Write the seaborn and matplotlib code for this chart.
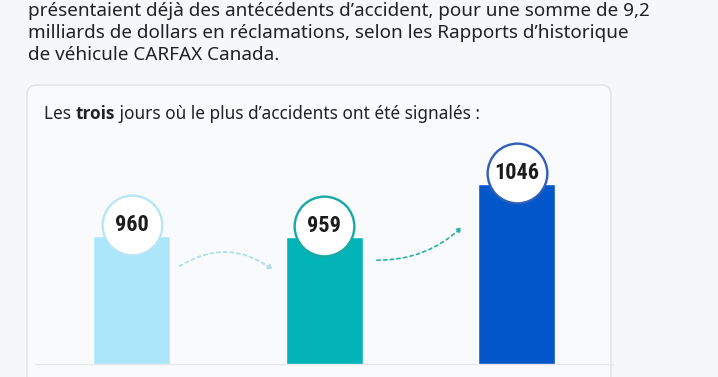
import matplotlib
matplotlib.use("Agg")
import matplotlib.pyplot as plt
import matplotlib.transforms as mtransforms
from matplotlib.patches import FancyBboxPatch
from matplotlib import font_manager
import seaborn as sns

# data
jours = ["Jour 1", "Jour 2", "Jour 3"]
accidents = [960, 959, 1046]
couleurs_barres = ["#abe6fb", "#02b4b8", "#0457ca"]
couleurs_cercles = ["#b9e6f6", "#17a9a3", "#2f5fb9"]

intro = [
    "présentaient déjà des antécédents d’accident, pour une somme de 9,2",
    "milliards de dollars en réclamations, selon les Rapports d’historique",
    "de véhicule CARFAX Canada.",
]

W, H = 718, 377
sns.set_theme(style="white")
plt.rcParams["font.family"] = ["Noto Sans", "DejaVu Sans"]

# narrowest bold family available for the numbers
noms = {f.name for f in font_manager.fontManager.ttflist}
etroites = [n for n in ["Noto Sans ExtraCondensed", "Noto Sans Condensed",
                        "Roboto Condensed", "Liberation Sans Narrow",
                        "DejaVu Sans Condensed"] if n in noms]
police_chiffres = etroites + ["Roboto", "DejaVu Sans"]

fig = plt.figure(figsize=(W / 100, H / 100), dpi=100)
fig.patch.set_facecolor("#f6f7f9")

def fx(px):
    return px / W

def fy(py):
    return 1 - py / H

# intro paragraph
for k, ligne in enumerate(intro):
    fig.text(fx(28), fy(15.5 + 22 * k), ligne, fontsize=13.6, color="#222222",
             va="baseline", ha="left")

# card (behind the chart)
carte = FancyBboxPatch((27, -30), 584, H - 85 + 30,
                       boxstyle="round,pad=0,rounding_size=10",
                       transform=mtransforms.IdentityTransform(),
                       facecolor="#f9fafb", edgecolor="#e3e5e9", linewidth=1.2,
                       zorder=-5)
fig.add_artist(carte)

# card title with bold word
t1 = fig.text(fx(44), fy(123), "Les ", fontsize=12.4, color="#222222", va="bottom")
t2 = fig.text(0, 0, "trois", fontsize=12.4, fontweight="bold", color="#222222",
              va="bottom", family=["Open Sans", "Noto Sans", "DejaVu Sans"])
fig.canvas.draw()
bb = t1.get_window_extent()
t2.set_position((bb.x1 / W, bb.y0 / H))
fig.canvas.draw()
bb = t2.get_window_extent()
fig.text(bb.x1 / W, bb.y0 / H, " jours où le plus d’accidents ont été signalés :",
         fontsize=12.4, color="#222222", va="bottom")

# chart area
ax = fig.add_axes([fx(35.25), 13 / H, fx(612.75) - fx(35.25), (364 - 130) / H])
ax.set_facecolor("none")
sns.barplot(x=jours, y=accidents, hue=jours, palette=couleurs_barres,
            width=0.4, legend=False, ax=ax, saturation=1)
ax.set_ylim(748.3, 1135.3)
ax.set_xlim(-0.5, 2.5)
for s in ["top", "right", "left"]:
    ax.spines[s].set_visible(False)
ax.spines["bottom"].set_color("#e6e8eb")
ax.spines["bottom"].set_linewidth(1)
ax.set_xticks([])
ax.set_yticks([])
ax.set_xlabel("")
ax.set_ylabel("")

# circles with values, a bit above each bar top
decal = mtransforms.ScaledTranslation(0, 11 / 100, fig.dpi_scale_trans)
for i, (v, c) in enumerate(zip(accidents, couleurs_cercles)):
    ax.plot(i, v, marker="o", markersize=43, markerfacecolor="white",
            markeredgecolor=c, markeredgewidth=1.7,
            transform=ax.transData + decal, clip_on=False, zorder=5)
    ax.text(i, v, f"{v}", transform=ax.transData + decal, ha="center", va="center",
            fontsize=16, fontweight="bold", fontstretch="condensed", color="#1c1c1c",
            family=police_chiffres, zorder=6)

# dotted arrows between the bars
ax.annotate("", xy=(0.735, 904), xytext=(0.25, 910),
            arrowprops=dict(arrowstyle="-|>", connectionstyle="arc3,rad=-0.34",
                            linestyle=(0, (2, 2)), color="#a9dcee", lw=1.2,
                            mutation_scale=7, shrinkA=0, shrinkB=0))
ax.annotate("", xy=(1.717, 975), xytext=(1.275, 920),
            arrowprops=dict(arrowstyle="-|>", connectionstyle="arc3,rad=0.2",
                            linestyle=(0, (2, 2)), color="#2aaea8", lw=1.2,
                            mutation_scale=7, shrinkA=0, shrinkB=0))

fig.savefig("out.png", dpi=100, facecolor=fig.get_facecolor())
